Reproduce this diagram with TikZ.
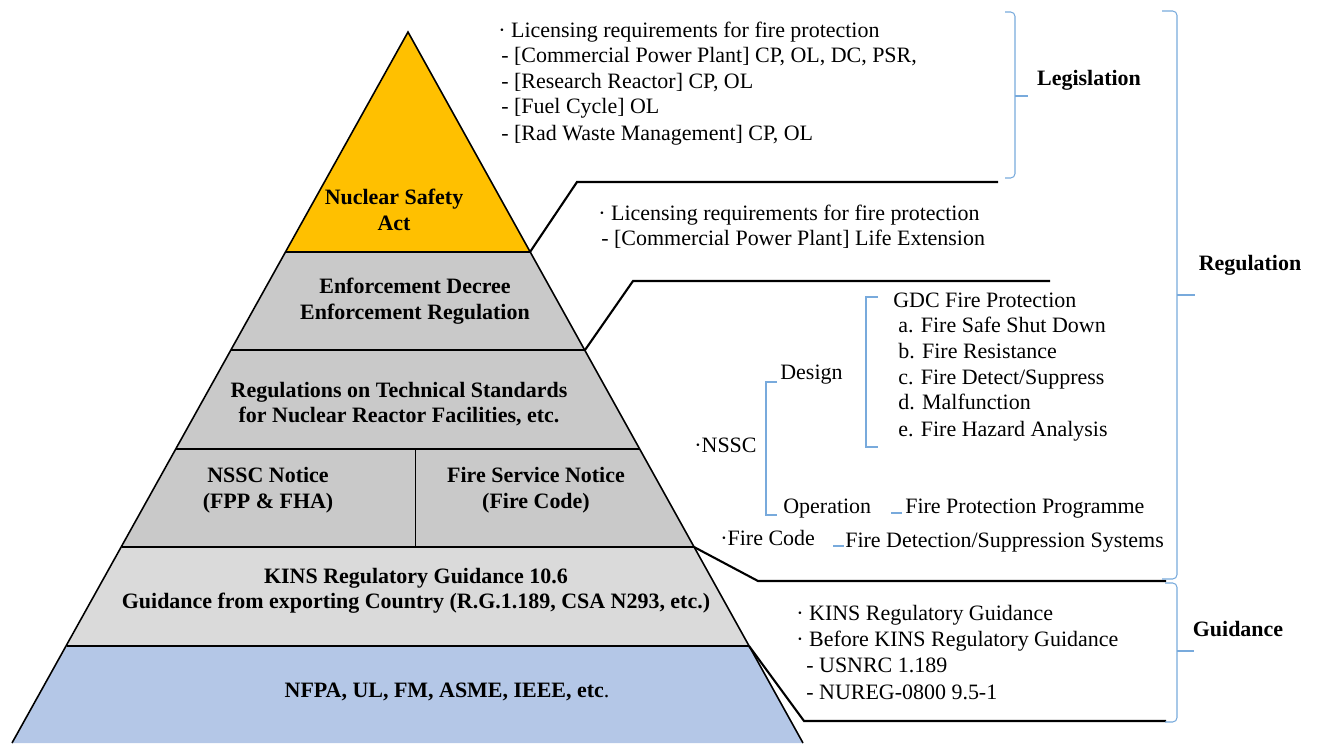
\documentclass[tikz,border=0pt]{standalone}
\usepackage{fontspec}
\setmainfont{Liberation Serif}
\usepackage{tikz}
\usetikzlibrary{positioning}
\definecolor{actyellow}{RGB}{255,192,0}
\definecolor{layergray}{RGB}{201,201,201}
\definecolor{kinsgray}{RGB}{218,218,218}
\definecolor{codeblue}{RGB}{180,199,231}
\definecolor{bracketblue}{RGB}{120,170,220}

\tikzset{
  layertext/.style={font=\fontsize{12.5}{14.5}\selectfont\bfseries, align=center, inner sep=0pt},
  listtext/.style={font=\fontsize{12.5}{14.5}\selectfont, anchor=west, inner sep=0pt,
                   text height=8.6pt, text depth=2.6pt},
  sidelabel/.style={font=\fontsize{12.5}{14.5}\selectfont\bfseries, inner sep=0pt},
  pyredge/.style={line width=0.9pt, black},
  layerline/.style={line width=1.3pt, black},
  callout/.style={line width=1.2pt, black},
  bracket/.style={draw=bracketblue, line width=0.6pt, rounded corners=2.5pt}
}

\begin{document}
\begin{tikzpicture}[x=0.02cm, y=-0.02cm]
        \useasboundingbox (0,0) rectangle (1317,743);

        % Coins de la pyramide
        \coordinate (apex) at (408,32);
        \foreach \i/\y/\xl/\xr in {1/252/286/530, 2/350/231/585, 3/449/176/640,
                                   4/547/122/694, 5/646/67/749, 6/743/12/803} {
            \coordinate (l\i) at (\xl,\y);
            \coordinate (r\i) at (\xr,\y);
        }

        % Remplissage des niveaux
        \fill[actyellow] (apex) -- (l1) -- (r1) -- cycle;
        \fill[layergray] (l1) -- (l4) -- (r4) -- (r1) -- cycle;
        \fill[kinsgray] (l4) -- (l5) -- (r5) -- (r4) -- cycle;
        \fill[codeblue] (l5) -- (l6) -- (r6) -- (r5) -- cycle;

        % Contour et separations
        \draw[pyredge] (l6) -- (apex) -- (r6);
        \foreach \i in {1,...,5}
            \draw[layerline] (l\i) -- (r\i);
        \draw[line width=0.5pt] (415,449) -- (415,547);

        % Textes des niveaux
        \node[layertext] (act) at (394,210) {Nuclear Safety\\Act};
        \node[layertext] (decree) at (415,301) {Enforcement Decree\\Enforcement Regulation};
        \node[layertext] (techstd) at (399,404) {Regulations on Technical Standards\\for Nuclear Reactor Facilities, etc.};
        \node[layertext] (nsscnotice) at (268,490) {NSSC Notice\\(FPP \& FHA)};
        \node[layertext] (firenotice) at (536,490) {Fire Service Notice\\(Fire Code)};
        \node[layertext] (kins) at (416,591) {KINS Regulatory Guidance 10.6\\Guidance from exporting Country (R.G.1.189, CSA N293, etc.)};
        \node[layertext] (nfpa) at (447,692) {NFPA, UL, FM, ASME, IEEE, etc\textmd{.}};

        % Lignes de rappel
        \draw[callout] (r1) -- (577,182) coordinate (c1) -- (998,182);
        \draw[callout] (r2) -- (633,281) coordinate (c2) -- (1050,281);
        \draw[callout] (r4) -- (758,581) coordinate (c3) -- (1166,581);
        \draw[callout] (r5) -- (804,721) coordinate (c4) -- (1166,721);

        % Legislation
        \node[listtext] (leg0) at (498,32) {· Licensing requirements for fire protection};
        \foreach \i/\y/\txt in {1/57/{- [Commercial Power Plant] CP, OL, DC, PSR,},
                                2/83/{- [Research Reactor] CP, OL},
                                3/108/{- [Fuel Cycle] OL},
                                4/135/{- [Rad Waste Management] CP, OL}}
            \node[listtext] (leg\i) at (501,\y) {\txt};

        % Decret
        \node[listtext] (dec0) at (598,215) {· Licensing requirements for fire protection};
        \node[listtext] (dec1) at (601,240) {- [Commercial Power Plant] Life Extension};

        % NSSC et Fire Code
        \node[listtext] (nssc) at (694,447) {·NSSC};
        \node[listtext] (design) at (780,374) {Design};
        \node[listtext] (operation) at (783,508) {Operation};
        \node[listtext] (gdc) at (893,302) {GDC Fire Protection};
        \foreach \i/\y/\txt in {a/327/{a. Fire Safe Shut Down},
                                b/353/{b. Fire Resistance},
                                c/379/{c. Fire Detect/Suppress},
                                d/404/{d. Malfunction},
                                e/431/{e. Fire Hazard Analysis}}
            \node[listtext] (gdc\i) at (898,\y) {\txt};
        \node[listtext] (fpp) at (905,508) {Fire Protection Programme};
        \node[listtext] (firecode) at (720,540) {·Fire Code};
        \node[listtext] (fdss) at (845,542) {Fire Detection/Suppression Systems};

        \draw[bracketblue, line width=0.6pt] (777,382) -- (766,382) -- (766,515) -- (777,515);
        \draw[bracketblue, line width=0.6pt] (878,297) -- (866,297) -- (866,447) -- (878,447);
        \draw[bracketblue, line width=0.6pt] (fpp.west) ++(-14,5) -- ++(11,0);
        \draw[bracketblue, line width=0.6pt] (fdss.west) ++(-12,4) -- ++(11,0);

        % Guidance
        \foreach \i/\x/\y/\txt in {0/796/615/{· KINS Regulatory Guidance},
                                   1/796/641/{· Before KINS Regulatory Guidance},
                                   2/806/667/{- USNRC 1.189},
                                   3/806/694/{- NUREG-0800 9.5-1}}
            \node[listtext] (guid\i) at (\x,\y) {\txt};

        % Accolades
        \draw[bracket] (1005,12) -- (1015,12) -- (1015,178) -- (1005,178);
        \draw[bracket] (1015,96) -- (1028,96);
        \draw[bracket] (1162,11) -- (1177,11) -- (1177,579) -- (1162,579);
        \draw[bracket] (1177,295) -- (1195,295);
        \draw[bracket] (1165,583) -- (1177,583) -- (1177,722) -- (1165,722);
        \draw[bracket] (1177,651) -- (1194,651);

        \node[sidelabel] (legislation) at (1089,80) {Legislation};
        \node[sidelabel] (regulation) at (1250,265) {Regulation};
        \node[sidelabel] (guidance) at (1238,629) {Guidance};
    \end{tikzpicture}
\end{document}
